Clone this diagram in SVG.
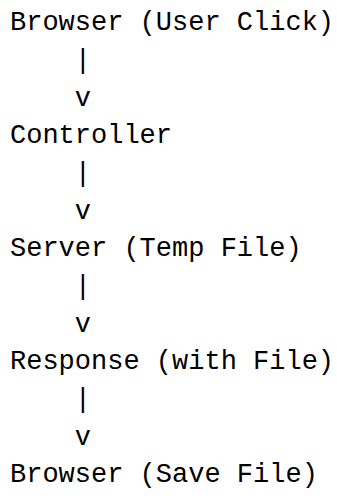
<svg xmlns="http://www.w3.org/2000/svg" width="337" height="498" viewBox="0 0 337 498">
<style>
text{font-family:"Liberation Mono","DejaVu Sans Mono",monospace;font-size:27px;fill:#000}
</style>
<rect width="337" height="498" fill="#fff"/>
<g id="node-browser-click"><text x="10" y="30">Browser (User Click)</text></g>
<g id="node-controller"><text x="10" y="143">Controller</text></g>
<g id="node-server"><text x="10" y="256">Server (Temp File)</text></g>
<g id="node-response"><text x="10" y="369">Response (with File)</text></g>
<g id="node-browser-save"><text x="10" y="482">Browser (Save File)</text></g>
<g id="connectors">
<text x="74.8" y="68">|</text><text x="74.8" y="106">v</text>
<text x="74.8" y="181">|</text><text x="74.8" y="219">v</text>
<text x="74.8" y="294">|</text><text x="74.8" y="332">v</text>
<text x="74.8" y="407">|</text><text x="74.8" y="445">v</text>
</g>
</svg>
